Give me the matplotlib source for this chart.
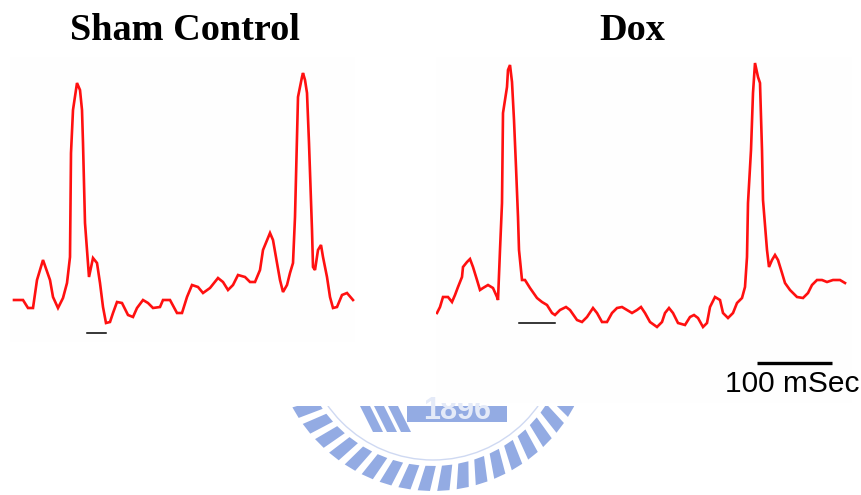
import numpy as np
import matplotlib
matplotlib.use("Agg")
import matplotlib.pyplot as plt
from matplotlib.patches import Rectangle, Polygon, Circle

# ECG recordings, sampled at 750 Hz (sample index, amplitude in ADC counts)
FS = 750.0

sham_idx = [0, 9, 14, 19, 23, 29, 36, 39, 44, 49, 53, 56, 57, 59, 63, 66, 68, 69,
            71, 73, 75, 79, 83, 86, 89, 92, 96, 99, 103, 108, 114, 119, 123, 129,
            134, 139, 146, 149, 156, 163, 168, 173, 178, 184, 189, 196, 204, 209,
            214, 219, 224, 231, 236, 241, 246, 249, 256, 259, 263, 266, 269, 273,
            276, 279, 281, 283, 284, 288, 289, 291, 293, 295, 298, 299, 301, 304,
            307, 309, 313, 316, 319, 323, 328, 333, 339]
sham_counts = [50, 50, 42, 42, 70, 90, 70, 53, 42, 52, 67, 93, 197, 240, 267, 260,
               240, 207, 127, 100, 73, 92, 87, 67, 43, 27, 28, 37, 48, 47, 35, 33,
               42, 50, 47, 42, 43, 50, 50, 37, 37, 53, 65, 63, 57, 62, 72, 68, 60,
               65, 75, 73, 68, 68, 80, 100, 117, 110, 87, 70, 58, 65, 77, 87, 133,
               213, 253, 273, 277, 270, 257, 207, 120, 83, 80, 100, 105, 93, 73, 53,
               42, 43, 55, 57, 50]

dox_idx = [0, 3, 6, 11, 15, 18, 21, 25, 26, 30, 33, 36, 40, 43, 46, 51, 56, 60, 61,
           63, 65, 66, 70, 71, 73, 75, 77, 79, 81, 82, 85, 88, 93, 100, 105, 110,
           115, 118, 123, 129, 133, 140, 145, 150, 156, 160, 165, 170, 175, 180,
           185, 190, 195, 200, 204, 208, 213, 220, 225, 228, 232, 236, 241, 248,
           253, 257, 261, 266, 270, 273, 278, 283, 286, 291, 296, 300, 305, 308,
           310, 311, 314, 316, 318, 321, 323, 325, 326, 330, 332, 335, 338, 341,
           345, 348, 353, 360, 366, 371, 375, 380, 385, 390, 396, 403, 408]
dox_counts = [37, 43, 53, 53, 48, 55, 63, 73, 83, 88, 91, 83, 70, 60, 62, 65, 62, 53,
              50, 100, 147, 237, 263, 280, 285, 268, 230, 183, 133, 100, 70, 70, 62,
              52, 48, 45, 37, 35, 40, 43, 40, 30, 28, 33, 42, 37, 28, 28, 37, 42, 43,
              40, 37, 40, 43, 37, 28, 23, 28, 37, 42, 37, 27, 25, 33, 35, 32, 23, 27,
              43, 53, 50, 37, 32, 37, 47, 52, 63, 93, 147, 200, 257, 287, 273, 267,
              200, 150, 100, 83, 90, 95, 90, 77, 67, 60, 53, 52, 57, 65, 70, 70, 68,
              70, 70, 67]

sham_t = np.array(sham_idx) * 1000 / FS
dox_t = np.array(dox_idx) * 1000 / FS

SCALE_MS = 100

W, H = 862, 495
fig = plt.figure(figsize=(W / 100, H / 100), dpi=100)
fig.patch.set_facecolor("white")

# background layer in pixel units: titles and the faint seal
bg = fig.add_axes([0, 0, 1, 1])
bg.set_xlim(0, W)
bg.set_ylim(H, 0)
bg.axis("off")

seal = "#93abe3"
clip = Rectangle((0, 406), W, H - 406, transform=bg.transData, visible=False)
bg.add_patch(clip)

cx, cy, r_in, r_out = 433, 331, 135, 160
for ang in np.arange(0, 360, 7.0):
    a0, a1 = np.radians(ang - 2.2), np.radians(ang + 2.2)
    pts = [(cx + r_in * np.cos(a0), cy + r_in * np.sin(a0)),
           (cx + r_out * np.cos(a0 + 0.04), cy + r_out * np.sin(a0 + 0.04)),
           (cx + r_out * np.cos(a1 + 0.04), cy + r_out * np.sin(a1 + 0.04)),
           (cx + r_in * np.cos(a1), cy + r_in * np.sin(a1))]
    tooth = Polygon(pts, closed=True, facecolor=seal, edgecolor="none")
    bg.add_patch(tooth)
    tooth.set_clip_path(clip)
ring = Circle((cx, cy), 129, facecolor="none", edgecolor="#cfd9f2", lw=1.0)
bg.add_patch(ring)
ring.set_clip_path(clip)

plate = Rectangle((407, 380), 100, 42, facecolor=seal, edgecolor="none")
bg.add_patch(plate)
plate.set_clip_path(clip)
num = bg.text(457, 419, "1896", ha="center", va="baseline", fontsize=22,
              color="#e4eaf8", family="Liberation Sans", fontweight="bold")
num.set_clip_path(clip)
for dx in (0, 14, 28):
    leaf = Polygon([(357 + dx, 400), (367 + dx, 400), (383 + dx, 432), (373 + dx, 432)],
                   closed=True, facecolor=seal, edgecolor="none")
    bg.add_patch(leaf)
    leaf.set_clip_path(clip)

title_kw = dict(ha="center", va="baseline", fontsize=27.5, fontweight="bold",
                family="Liberation Serif", color="black")
fig.text(185 / W, 1 - 40 / H, "Sham Control", **title_kw)
fig.text(632 / W, 1 - 40 / H, "Dox", **title_kw)


def panel(left, top, right, bottom, x0, y0):
    ax = fig.add_axes([left / W, 1 - bottom / H, (right - left) / W, (bottom - top) / H])
    ms = 1000 / FS
    ax.set_xlim((left - x0) * ms, (right - x0) * ms)
    ax.set_ylim(y0 - bottom, y0 - top)
    ax.set_facecolor("#fefefe")
    for s in ax.spines.values():
        s.set_visible(False)
    ax.set_xticks([])
    ax.set_yticks([])
    return ax


ax1 = panel(10, 57, 355, 342, 14, 350)
ax1.plot(sham_t, sham_counts, color="#ff1010", lw=1.9, solid_joinstyle="miter")
ax1.plot([73 * 1000 / FS, 92 * 1000 / FS], [17, 17], color="black", lw=1.1)

ax2 = panel(436, 57, 852, 403, 437, 350)
ax2.plot(dox_t, dox_counts, color="#ff1010", lw=1.9, solid_joinstyle="miter")
ax2.plot([82 * 1000 / FS, 118 * 1000 / FS], [27, 27], color="black", lw=1.1)

# 100 ms scale bar
bar_start = 320 * 1000 / FS
ax2.plot([bar_start, bar_start + SCALE_MS], [-13, -13], color="black", lw=2.4,
         solid_capstyle="butt")
ax2.text(bar_start + SCALE_MS / 2 - 3, -42, f"{SCALE_MS} mSec", ha="center",
         va="baseline", fontsize=21.5, family="Liberation Sans", color="black",
         clip_on=False)

fig.savefig("out.png", dpi=100)
